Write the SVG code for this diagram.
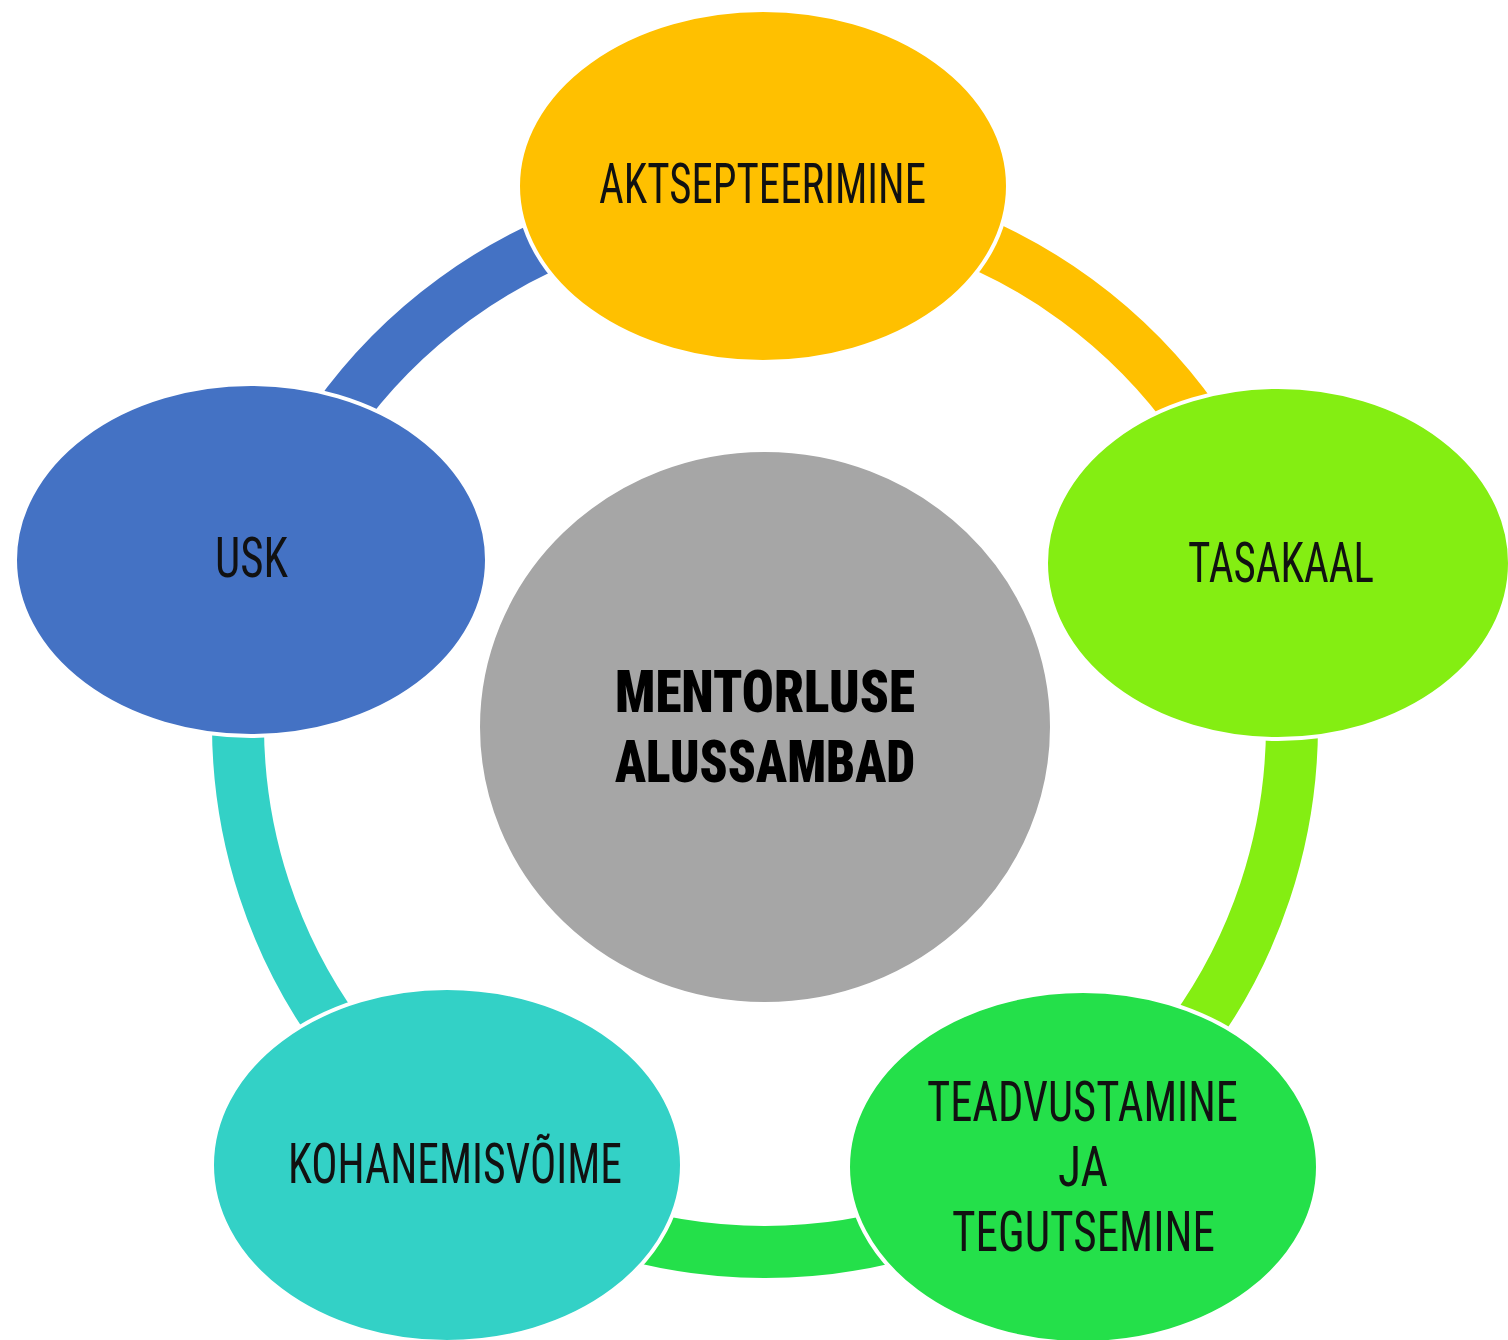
<svg xmlns="http://www.w3.org/2000/svg" width="1508" height="1340" viewBox="0 0 1508 1340">
<style>
.arc{fill:none;stroke-width:52;stroke-linecap:butt}
.node{stroke:#ffffff;stroke-width:4}
.lbl{font-family:"Roboto Condensed","Liberation Sans Narrow",Roboto,"Liberation Sans",sans-serif;font-size:56px;fill:#111111;text-anchor:start}
.ctr{font-family:"Roboto Condensed","Liberation Sans Narrow",Roboto,"Liberation Sans",sans-serif;font-size:60px;font-weight:900;fill:#000000}
</style>
<rect width="1508" height="1340" fill="#ffffff"/>
<g id="connectors">
<path class="arc" stroke="#FFC000" d="M765,198 A527,527 0 0 1 1267.6,566.5"/>
<path class="arc" stroke="#84EE12" d="M1267.6,566.5 A527,527 0 0 1 1072.5,1153"/>
<path class="arc" stroke="#24E04A" d="M1072.5,1153 A527,527 0 0 1 456,1151.9"/>
<path class="arc" stroke="#33D1C6" d="M456,1151.9 A527,527 0 0 1 263.2,563.9"/>
<path class="arc" stroke="#4472C4" d="M263.2,563.9 A527,527 0 0 1 765,198"/>
</g>
<g id="center">
<ellipse class="node" cx="765" cy="727" rx="287" ry="277" fill="#A6A6A6"/>
<text class="ctr" x="615" y="712" textLength="300" lengthAdjust="spacingAndGlyphs">MENTORLUSE</text>
<text class="ctr" x="615" y="782" textLength="300" lengthAdjust="spacingAndGlyphs">ALUSSAMBAD</text>
</g>
<g id="aktsepteerimine">
<ellipse class="node" cx="763" cy="186" rx="245" ry="176" fill="#FFC000"/>
<text class="lbl" x="599" y="203" textLength="327" lengthAdjust="spacingAndGlyphs">AKTSEPTEERIMINE</text>
</g>
<g id="tasakaal">
<ellipse class="node" cx="1278" cy="563" rx="232" ry="176" fill="#84EE12"/>
<text class="lbl" x="1188" y="582" textLength="186" lengthAdjust="spacingAndGlyphs">TASAKAAL</text>
</g>
<g id="teadvustamine">
<ellipse class="node" cx="1083" cy="1167" rx="235" ry="176" fill="#24E04A"/>
<text class="lbl" x="927" y="1121" textLength="311" lengthAdjust="spacingAndGlyphs">TEADVUSTAMINE</text>
<text class="lbl" x="1058" y="1186" textLength="50" lengthAdjust="spacingAndGlyphs">JA</text>
<text class="lbl" x="952" y="1251" textLength="263" lengthAdjust="spacingAndGlyphs">TEGUTSEMINE</text>
</g>
<g id="kohanemisvoime">
<ellipse class="node" cx="447" cy="1165" rx="235" ry="177" fill="#33D1C6"/>
<text class="lbl" x="288" y="1183" textLength="334" lengthAdjust="spacingAndGlyphs">KOHANEMISVÕIME</text>
</g>
<g id="usk">
<ellipse class="node" cx="251" cy="560" rx="236" ry="176" fill="#4472C4"/>
<text class="lbl" x="215" y="577" textLength="73" lengthAdjust="spacingAndGlyphs">USK</text>
</g>
</svg>
